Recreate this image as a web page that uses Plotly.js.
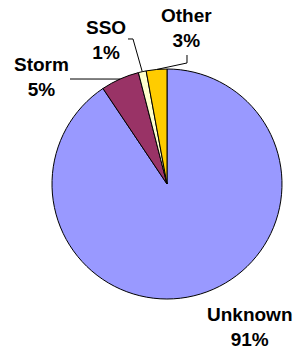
<!DOCTYPE html>
<html><head><meta charset="utf-8">
<script src="https://cdn.plot.ly/plotly-3.0.1.min.js"></script>
<style>html,body{margin:0;padding:0;background:#fff;overflow:hidden}</style>
</head><body><div id="chart" style="width:297px;height:349px"></div>
<script>
const categories = ["Unknown", "Storm", "SSO", "Other"];
const shares = [90.6, 5.4, 1.1, 2.9];
const colors = ["#9999FF", "#993366", "#FFFFCC", "#FFCC00"];

// layout geometry (pixels)
const W = 297, H = 349, CX = 167, CY = 184, R = 115;
// label centres and leader waypoints (pixels)
const labelStyle = {
  Unknown: {pos: [250, 327], leader: null},
  Storm:   {pos: [41, 77],  leader: [[70, 79]]},
  SSO:     {pos: [106, 40], leader: [[128, 39], [133, 39]]},
  Other:   {pos: [186, 28], leader: [[187, 55], [187, 63]]}
};

const px2x = p => p / W;
const py2y = p => 1 - p / H;

const total = shares.reduce((a, b) => a + b, 0);
let cum = 0;
const annotations = [], shapes = [];
categories.forEach((cat, i) => {
  const frac = shares[i] / total;
  const mid = (cum + frac / 2) * 2 * Math.PI; // clockwise from 12 o'clock
  cum += frac;
  const ax = CX + R * Math.sin(mid), ay = CY - R * Math.cos(mid);
  const st = labelStyle[cat];
  annotations.push({
    text: cat + "<br>" + Math.round(frac * 100) + "%",
    x: px2x(st.pos[0]), y: py2y(st.pos[1]), xref: "paper", yref: "paper",
    xanchor: "center", yanchor: "middle", showarrow: false, align: "center",
    font: {family: "Liberation Sans, Arial, sans-serif", size: 19, color: "#000", weight: "bold"}
  });
  if (st.leader) {
    const pts = st.leader.concat([[ax, ay]]);
    const path = pts.map((p, k) => (k ? "L" : "M") + px2x(p[0]).toFixed(4) + "," + py2y(p[1]).toFixed(4)).join(" ");
    shapes.push({type: "path", xref: "paper", yref: "paper", path: path, line: {color: "#000", width: 1}});
  }
});

const trace = {
  type: "pie", labels: categories, values: shares, sort: false,
  direction: "clockwise", rotation: 0,
  marker: {colors: colors, line: {color: "#000", width: 1}},
  textinfo: "none", hoverinfo: "none",
  domain: {x: [px2x(CX - R), px2x(CX + R)], y: [py2y(CY + R), py2y(CY - R)]}
};

Plotly.newPlot("chart", [trace], {
  width: W, height: H, margin: {l: 0, r: 0, t: 0, b: 0},
  showlegend: false, paper_bgcolor: "#fff",
  annotations: annotations, shapes: shapes
}, {staticPlot: true});
</script></body></html>
